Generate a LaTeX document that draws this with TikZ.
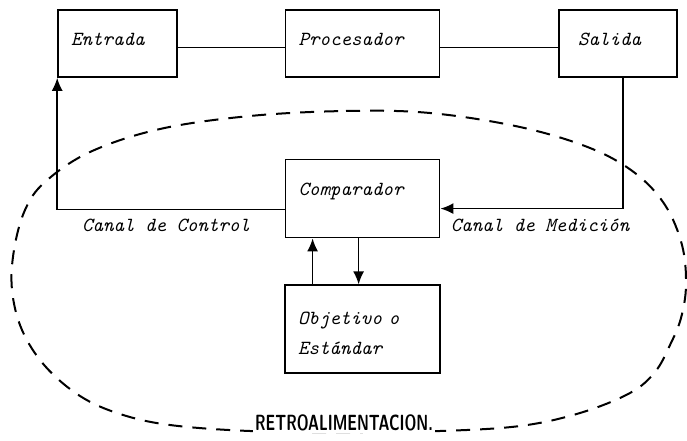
\documentclass[tikz,border=0pt]{standalone}
\usepackage{fontspec}
\usetikzlibrary{arrows.meta,positioning}

\newcommand{\hand}{\fontsize{20}{30}\selectfont\ttfamily\itshape}

\begin{document}
\begin{tikzpicture}[
    x=1pt, y=-1pt,
    box/.style={rectangle, draw, line width=1.6pt, inner xsep=13pt, inner ysep=0pt, align=left, font=\hand},
    lbl/.style={font=\hand, inner sep=1pt},
    link/.style={line width=1.6pt},
    arr/.style={line width=1.6pt, -{Latex[length=13pt,width=11pt]}},
    feedback/.style={line width=2pt, dash pattern=on 14pt off 10pt}
]
    \useasboundingbox (0,0) rectangle (687,441);

    % Nodes
    \node[box, text width=93pt, minimum height=67pt, text depth=8pt] (entrada) at (117.5,43.5) {Entrada};
    \node[box, text width=128pt, minimum height=67pt, text depth=8pt, right=107pt of entrada] (proc) {Procesador};
    \node[box, text width=80pt, inner xsep=19pt, minimum height=67pt, text depth=8pt, right=118pt of proc] (salida) {Salida};
    \node[box, text width=128pt, minimum height=78pt, text depth=18pt, below=81pt of proc] (comp) {Comparador};
    \node[box, text width=129pt, minimum height=88pt, text depth=22pt, below=46pt of comp] (obj) {Objetivo o\\Estándar};

    % Arrows
    \draw[link] ([yshift=-4pt]entrada.east) -- ([yshift=-4pt]proc.west);
    \draw[link] ([yshift=-4pt]proc.east) -- ([yshift=-4pt]salida.west);
    \draw[arr] ([xshift=5pt]salida.south) |- ([yshift=-10pt]comp.east);
    \draw[arr] ([yshift=-11pt]comp.west) -| (entrada.south west);
    \draw[arr] ([xshift=-50pt]obj.north) -- ([xshift=-50pt]comp.south);
    \draw[arr] ([xshift=-4pt]comp.south) -- ([xshift=-4pt]obj.north);

    % Labels
    \node[lbl] (ctrl) at (166,225) {Canal de Control};
    \node[lbl] (med) at (540,225) {Canal de Medición};

    % Feedback loop
    \draw[feedback] plot[smooth cycle, tension=0.6] coordinates {
        (250,116) (346,111) (430,113) (520,127) (590,148) (635,173) (665,205)
        (682,245) (686,285) (681,318) (670,345) (655,372) (630,393) (580,413)
        (520,426) (440,431) (346,432) (250,431) (170,425) (120,414) (80,396)
        (45,366) (22,330) (12,290) (14,250) (25,210) (45,182) (90,152) (160,129)};
    \node[fill=white, inner sep=2pt, font=\sffamily\bfseries\fontsize{22}{22}\selectfont] (retro) at (344,423) {\scalebox{0.68}[1]{RETROALIMENTACION.}};
\end{tikzpicture}
\end{document}
